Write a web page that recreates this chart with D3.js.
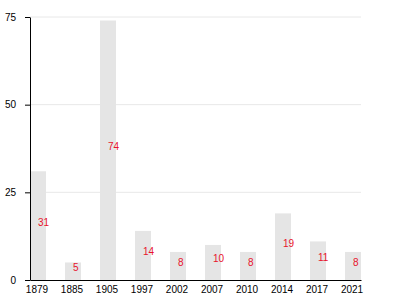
<!DOCTYPE html>
<html>
<head>
<meta charset="utf-8">
<script src="https://cdn.jsdelivr.net/npm/d3@7"></script>
<style>
  html, body { margin: 0; padding: 0; background: #fff; overflow: hidden; }
  svg { display: block; font-family: "Liberation Sans", Arial, sans-serif; }
</style>
</head>
<body>
<div id="chart"></div>
<script>
const years = ['1879', '1885', '1905', '1997', '2002', '2007', '2010', '2014', '2017', '2021'];
const counts = [31, 5, 74, 14, 8, 10, 8, 19, 11, 8];
const yTicks = [0, 25, 50, 75];

const width = 400, height = 300;
const margin = { top: 17, right: 39, bottom: 20, left: 30 };
const innerWidth = width - margin.left - margin.right;
const innerHeight = height - margin.top - margin.bottom;

const data = years.map((y, i) => ({ year: y, count: counts[i] }));

const svg = d3.select('#chart').append('svg')
  .attr('width', width)
  .attr('height', height)
  .append('g')
  .attr('transform', `translate(${margin.left},${margin.top})`);

const xScale = d3.scaleBand()
  .domain(years)
  .range([0, innerWidth])
  .paddingInner(0.543)
  .paddingOuter(0);

const yScale = d3.scaleLinear()
  .domain([0, 75])
  .range([innerHeight, 0]);

// Gridlines
svg.selectAll('.grid')
  .data(yTicks.slice(1))
  .enter().append('line')
  .attr('x1', 0)
  .attr('x2', innerWidth)
  .attr('y1', d => yScale(d))
  .attr('y2', d => yScale(d))
  .style('stroke', '#e8e8e8')
  .style('stroke-width', '1px');

// Bars
svg.selectAll('.bar')
  .data(data)
  .enter().append('rect')
  .attr('class', 'bar')
  .attr('x', d => xScale(d.year))
  .attr('y', d => yScale(d.count))
  .attr('width', xScale.bandwidth())
  .attr('height', d => innerHeight - yScale(d.count))
  .style('fill', '#e5e5e5');

// Axes
const yAxis = svg.append('g')
  .call(d3.axisLeft(yScale).tickValues(yTicks).tickSize(5).tickSizeOuter(0).tickPadding(9));
yAxis.select('.domain').attr('stroke', '#000');
yAxis.selectAll('text').style('font-size', '10px').attr('fill', '#000');

const xAxis = svg.append('g')
  .attr('transform', `translate(0,${innerHeight})`)
  .call(d3.axisBottom(xScale).tickSize(0).tickSizeOuter(0).tickPadding(6));
xAxis.select('.domain').attr('stroke', '#000');
xAxis.selectAll('text').style('font-size', '10px').attr('fill', '#000').attr('dx', -1);

// Bar labels
svg.selectAll('.bar-label')
  .data(data)
  .enter().append('text')
  .attr('x', d => xScale(d.year) + xScale.bandwidth() / 2)
  .attr('y', d => (yScale(d.count) + innerHeight) / 2)
  .attr('text-anchor', 'start')
  .text(d => d.count)
  .style('font-size', '10px')
  .style('fill', '#e8132b');
</script>
</body>
</html>
